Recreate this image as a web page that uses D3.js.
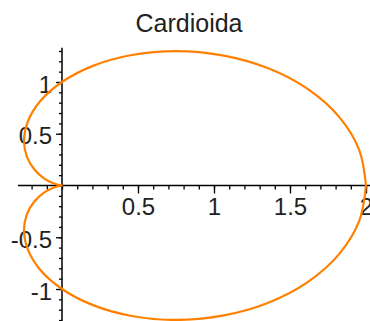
<!DOCTYPE html>
<html>
<head>
<meta charset="utf-8">
<script src="https://cdn.jsdelivr.net/npm/d3@7"></script>
<style>
  html, body { margin: 0; padding: 0; background: #fff; }
  svg { display: block; }
  text { font-family: "Liberation Sans", Arial, sans-serif; fill: #222; }
</style>
</head>
<body>
<svg id="chart" width="370" height="321"></svg>
<script>
// points, going round from (2, 0)
const curveX = [2, 1.955, 1.823, 1.616, 1.353, 1.056, 0.75, 0.459, 0.204, 0, -0.144, -0.225, -0.25, -0.23, -0.179, -0.116, -0.057, -0.015, 0,
                -0.015, -0.057, -0.116, -0.179, -0.23, -0.25, -0.225, -0.144, 0, 0.204, 0.459, 0.75, 1.056, 1.353, 1.616, 1.823, 1.955, 2];
const curveY = [0, 0.345, 0.663, 0.933, 1.135, 1.258, 1.299, 1.261, 1.156, 1, 0.814, 0.618, 0.433, 0.274, 0.15, 0.067, 0.021, 0.003, 0,
                -0.003, -0.021, -0.067, -0.15, -0.274, -0.433, -0.618, -0.814, -1, -1.156, -1.261, -1.299, -1.258, -1.135, -0.933, -0.663, -0.345, 0];
const xMinor = d3.range(-2, 21).map(d => d / 10);
const yMinor = d3.range(-13, 14).map(d => d / 10);
const xLabels = [0.5, 1, 1.5, 2];
const yLabels = [-1, -0.5, 0.5, 1];
const title = "Cardioida";

const svg = d3.select("#chart");
const x = d3.scaleLinear().domain([0, 2]).range([62, 366]);
const y = d3.scaleLinear().domain([0, 1]).range([185.5, 82]);

svg.append("text")
  .attr("x", 189).attr("y", 32)
  .attr("text-anchor", "middle")
  .attr("font-size", "25px")
  .text(title);

// axis lines
svg.append("line")
  .attr("x1", x(-0.29)).attr("x2", x(2.1))
  .attr("y1", y(0)).attr("y2", y(0))
  .attr("stroke", "#000").attr("stroke-width", 1.5);
svg.append("line")
  .attr("x1", x(0)).attr("x2", x(0))
  .attr("y1", y(1.33)).attr("y2", y(-1.4))
  .attr("stroke", "#000").attr("stroke-width", 1.5);

const clean = g => {
  g.select(".domain").remove();
  g.selectAll("line").attr("stroke", "#000").attr("stroke-width", 1.3);
};

svg.append("g")
  .attr("transform", `translate(0,${y(0)})`)
  .call(d3.axisBottom(x).tickValues(xMinor).tickSize(4).tickFormat(""))
  .call(clean);
svg.append("g")
  .attr("transform", `translate(0,${y(0)})`)
  .call(d3.axisBottom(x).tickValues(xLabels).tickSize(8).tickPadding(4.5).tickFormat(d => String(d)))
  .call(clean)
  .selectAll("text")
  .attr("font-size", "24px")
  .attr("font-family", null)
  .attr("fill", "#222");

svg.append("g")
  .attr("transform", `translate(${x(0)},0)`)
  .call(d3.axisLeft(y).tickValues(yMinor).tickSize(3).tickFormat(""))
  .call(clean);
svg.append("g")
  .attr("transform", `translate(${x(0)},0)`)
  .call(d3.axisLeft(y).tickValues(yLabels).tickSize(6).tickPadding(4).tickFormat(d => String(d)))
  .call(clean)
  .selectAll("text")
  .attr("font-size", "24px")
  .attr("dy", "0.42em")
  .attr("fill", "#222");

svg.select("g").attr("font-family", null);
svg.selectAll("g").attr("font-family", null).attr("font-size", null);

const line = d3.line()
  .x((d, i) => x(curveX[i]))
  .y((d, i) => y(curveY[i]))
  .curve(d3.curveCatmullRom);

svg.append("path")
  .datum(curveX)
  .attr("d", line)
  .attr("fill", "none")
  .attr("stroke", "#ff8000")
  .attr("stroke-width", 2.2);
</script>
</body>
</html>
